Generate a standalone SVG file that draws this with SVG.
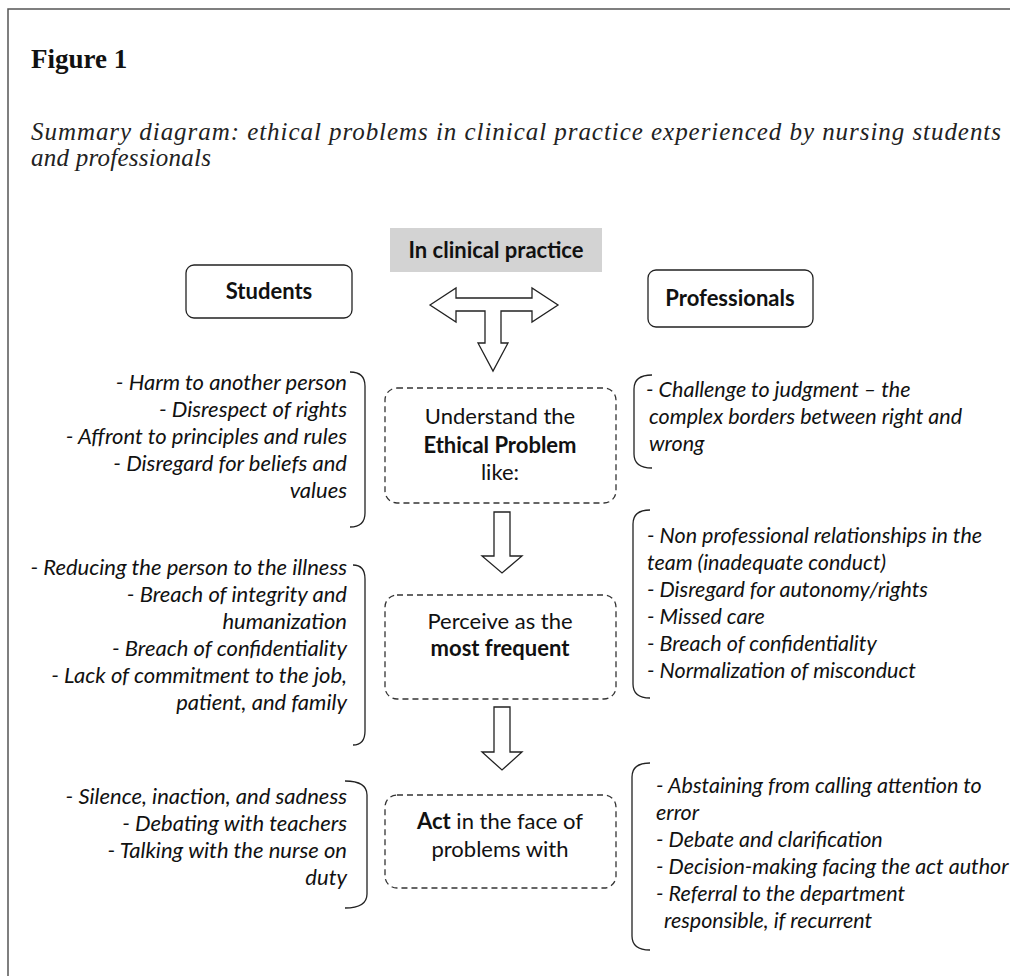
<svg xmlns="http://www.w3.org/2000/svg" width="1010" height="976" viewBox="0 0 1010 976">
<style>
.frame{fill:none;stroke:#555;stroke-width:1.5}
.fig{font-family:"Liberation Serif",serif;font-weight:bold;font-size:27px;fill:#111}
.sub{font-family:"Liberation Serif",serif;font-style:italic;font-size:25px;fill:#222}
.sans{font-family:"Lato","Liberation Sans",sans-serif;fill:#111}
.hdr{font-size:22px;font-weight:bold}
.box{fill:#fff;stroke:#222;stroke-width:1.3}
.dash{fill:#fff;stroke:#333;stroke-width:1.3;stroke-dasharray:6 4}
.ctr{font-size:22px;text-anchor:middle}
.itl{font-size:22px;font-style:italic;text-anchor:end}
.itr{font-size:21.5px;font-style:italic}
.brace{fill:none;stroke:#222;stroke-width:1.3}
.arrow{fill:#fff;stroke:#222;stroke-width:1.3;stroke-linejoin:miter}
</style>
<path class="frame" d="M8,976 L8,9 L1010,9"/>
<text class="fig" x="31" y="68">Figure 1</text>
<text class="sub" x="31" y="140" textLength="970" lengthAdjust="spacing">Summary diagram: ethical problems in clinical practice experienced by nursing students</text>
<text class="sub" x="31" y="166" textLength="180" lengthAdjust="spacing">and professionals</text>

<g id="connectors">
<path class="arrow" d="M430,305 L456,288 L456,298 L532,298 L532,288 L558,305 L532,322 L532,311 L501,311 L501,343 L508,343 L493,371 L478,343 L485,343 L485,311 L456,311 L456,322 Z"/>
<path class="arrow" d="M494,512 L510,512 L510,556 L522,556 L502,573 L482,556 L494,556 Z"/>
<path class="arrow" d="M494,707 L510,707 L510,752 L522,752 L502,770 L482,752 L494,752 Z"/>
</g>

<g id="clinical">
<rect x="390" y="228" width="212" height="44" fill="#d3d3d3"/>
<text class="sans hdr" x="496" y="258" text-anchor="middle">In clinical practice</text>
</g>
<g id="students">
<rect class="box" x="186" y="265" width="166" height="53" rx="8"/>
<text class="sans hdr" x="269" y="299" text-anchor="middle">Students</text>
</g>
<g id="professionals">
<rect class="box" x="648" y="270" width="165" height="57" rx="8"/>
<text class="sans hdr" x="730" y="306" text-anchor="middle">Professionals</text>
</g>

<g id="understand">
<rect class="dash" x="385" y="388" width="231" height="115" rx="12"/>
<text class="sans ctr" x="500" y="424">Understand the</text>
<text class="sans ctr" x="500" y="453" font-weight="bold">Ethical Problem</text>
<text class="sans ctr" x="500" y="480">like:</text>
</g>
<g id="perceive">
<rect class="dash" x="385" y="595" width="231" height="104" rx="12"/>
<text class="sans ctr" x="500" y="629">Perceive as the</text>
<text class="sans ctr" x="500" y="656" font-weight="bold">most frequent</text>
</g>
<g id="act">
<rect class="dash" x="385" y="795" width="231" height="93" rx="12"/>
<text class="sans ctr" x="500" y="829"><tspan font-weight="bold">Act</tspan> in the face of</text>
<text class="sans ctr" x="500" y="857">problems with</text>
</g>

<g id="students-understand">
<path class="brace" d="M350,372 Q365,372 365,386 L365,513 Q365,527 350,527"/>
<text class="sans itl" x="347" y="390">- Harm to another person</text>
<text class="sans itl" x="347" y="417">- Disrespect of rights</text>
<text class="sans itl" x="347" y="444">- Affront to principles and rules</text>
<text class="sans itl" x="347" y="471">- Disregard for beliefs and</text>
<text class="sans itl" x="347" y="498">values</text>
</g>
<g id="students-perceive">
<path class="brace" d="M353,565 Q365,565 365,579 L365,731 Q365,745 353,745"/>
<text class="sans itl" x="347" y="575">- Reducing the person to the illness</text>
<text class="sans itl" x="347" y="602">- Breach of integrity and</text>
<text class="sans itl" x="347" y="629">humanization</text>
<text class="sans itl" x="347" y="656">- Breach of confidentiality</text>
<text class="sans itl" x="347" y="683">- Lack of commitment to the job,</text>
<text class="sans itl" x="347" y="710">patient, and family</text>
</g>
<g id="students-act">
<path class="brace" d="M345,781 Q367,781 367,795 L367,894 Q367,908 345,908"/>
<text class="sans itl" x="347" y="804">- Silence, inaction, and sadness</text>
<text class="sans itl" x="347" y="831">- Debating with teachers</text>
<text class="sans itl" x="347" y="858">- Talking with the nurse on</text>
<text class="sans itl" x="347" y="885">duty</text>
</g>

<g id="prof-understand">
<path class="brace" d="M652,375 Q634,375 634,389 L634,454 Q634,468 652,468"/>
<text class="sans itr" x="646" y="397">- Challenge to judgment – the</text>
<text class="sans itr" x="649" y="424">complex borders between right and</text>
<text class="sans itr" x="649" y="451">wrong</text>
</g>
<g id="prof-perceive">
<path class="brace" d="M650,510 Q633,510 633,524 L633,684 Q633,698 650,698"/>
<text class="sans itr" x="647" y="543">- Non professional relationships in the</text>
<text class="sans itr" x="647" y="570">team (inadequate conduct)</text>
<text class="sans itr" x="647" y="597">- Disregard for autonomy/rights</text>
<text class="sans itr" x="647" y="624">- Missed care</text>
<text class="sans itr" x="647" y="651">- Breach of confidentiality</text>
<text class="sans itr" x="647" y="678">- Normalization of misconduct</text>
</g>
<g id="prof-act">
<path class="brace" d="M650,763 Q632,763 632,777 L632,936 Q632,950 650,950"/>
<text class="sans itr" x="656" y="793">- Abstaining from calling attention to</text>
<text class="sans itr" x="656" y="820">error</text>
<text class="sans itr" x="656" y="847">- Debate and clarification</text>
<text class="sans itr" x="656" y="874">- Decision-making facing the act author</text>
<text class="sans itr" x="656" y="901">- Referral to the department</text>
<text class="sans itr" x="664" y="928">responsible, if recurrent</text>
</g>
</svg>
